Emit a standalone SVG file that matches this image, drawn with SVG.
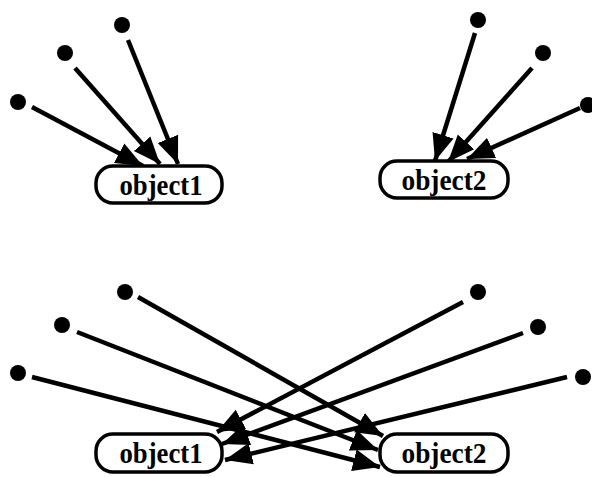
<svg xmlns="http://www.w3.org/2000/svg" width="592" height="477" viewBox="0 0 592 477">
<style>
.box{fill:#fff;stroke:#000;stroke-width:3.5}
.lbl{font-family:"Liberation Serif","Times New Roman",serif;font-weight:bold;font-size:29px;text-anchor:middle;fill:#000}
.dot{fill:#000}
.edge{stroke:#000;stroke-width:4.5;fill:none;marker-end:url(#ah)}
</style>
<defs>
<marker id="ah" markerUnits="userSpaceOnUse" markerWidth="30" markerHeight="26" viewBox="0 -13 30 26" refX="27" refY="0" orient="auto">
<path d="M0,-11 L27,0 L0,11 z" fill="#000"/>
</marker>
</defs>
<g id="connectors">
<circle class="dot" cx="18" cy="102" r="8"/>
<circle class="dot" cx="65" cy="53" r="8"/>
<circle class="dot" cx="122" cy="25" r="8"/>
<circle class="dot" cx="478" cy="20" r="8"/>
<circle class="dot" cx="543" cy="53" r="8"/>
<circle class="dot" cx="588" cy="105" r="8"/>
<circle class="dot" cx="125" cy="292" r="8"/>
<circle class="dot" cx="62" cy="325" r="8"/>
<circle class="dot" cx="18" cy="373" r="8"/>
<circle class="dot" cx="478" cy="292" r="8"/>
<circle class="dot" cx="538" cy="327" r="8"/>
<circle class="dot" cx="583" cy="377" r="8"/>
<line class="edge" x1="32" y1="107" x2="143" y2="166"/>
<line class="edge" x1="75" y1="68" x2="160" y2="164"/>
<line class="edge" x1="128" y1="40" x2="178" y2="164"/>
<line class="edge" x1="475" y1="33" x2="435" y2="161"/>
<line class="edge" x1="532" y1="68" x2="448" y2="162"/>
<line class="edge" x1="580" y1="108" x2="467" y2="159"/>
<line class="edge" x1="138" y1="297" x2="383" y2="436"/>
<line class="edge" x1="77" y1="332" x2="378" y2="450"/>
<line class="edge" x1="32" y1="377" x2="380" y2="467"/>
<line class="edge" x1="463" y1="302" x2="217" y2="432"/>
<line class="edge" x1="523" y1="333" x2="222" y2="444"/>
<line class="edge" x1="567" y1="377" x2="225" y2="460"/>
</g>
<g id="top-object1">
<rect class="box" x="96" y="166" width="126" height="37" rx="17"/>
<text class="lbl" x="161" y="195" textLength="83" lengthAdjust="spacingAndGlyphs">object1</text>
</g>
<g id="top-object2">
<rect class="box" x="380" y="161" width="128" height="37" rx="17"/>
<text class="lbl" x="444" y="190" textLength="85" lengthAdjust="spacingAndGlyphs">object2</text>
</g>
<g id="bottom-object1">
<rect class="box" x="96" y="434" width="126" height="38" rx="17"/>
<text class="lbl" x="161" y="463" textLength="83" lengthAdjust="spacingAndGlyphs">object1</text>
</g>
<g id="bottom-object2">
<rect class="box" x="380" y="434" width="128" height="38" rx="17"/>
<text class="lbl" x="444" y="463" textLength="85" lengthAdjust="spacingAndGlyphs">object2</text>
</g>
</svg>
